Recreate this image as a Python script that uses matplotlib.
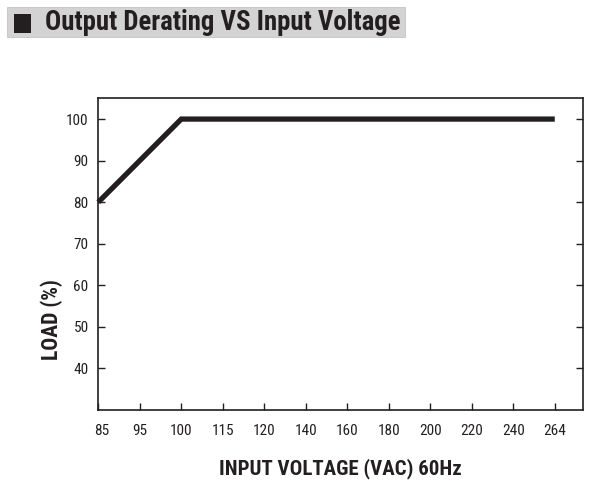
import matplotlib
matplotlib.use("Agg")
import matplotlib.pyplot as plt
from matplotlib.patches import Rectangle
from matplotlib.transforms import ScaledTranslation

plt.rcParams['font.family'] = ['Roboto Condensed', 'Liberation Sans', 'DejaVu Sans']

x_labels = ["85", "95", "100", "115", "120", "140", "160", "180", "200", "220", "240", "264"]
load_voltage_idx = [0, 2, 11]   # positions of 85, 100, 264 VAC on the category axis
load_values = [80, 100, 100]
y_ticks = [40, 50, 60, 70, 80, 90, 100]

ink = '#231f20'
fig = plt.figure(figsize=(6.10, 4.99), dpi=100)
ax = fig.add_axes([0.1611, 0.1784, 0.7946, 0.6246])

ax.plot(load_voltage_idx, load_values, color=ink, lw=3.8, solid_capstyle='butt',
        solid_joinstyle='miter', clip_on=False)

ax.set_xlim(0, 11.68)
ax.set_ylim(30, 105)
ax.set_xticks(range(len(x_labels)))
ax.set_xticklabels(x_labels)
ax.set_yticks(y_ticks)
ax.tick_params(axis='both', direction='in', length=5, width=1, colors=ink,
               labelsize=11, labelcolor=ink)
ax.tick_params(axis='y', right=True, pad=7)
ax.tick_params(axis='x', pad=10)
for s in ax.spines.values():
    s.set_color(ink)
    s.set_linewidth(1.2)

# first x label sits a little right of the spine
lbl0 = ax.get_xticklabels()[0]
lbl0.set_transform(lbl0.get_transform() + ScaledTranslation(3/100, 0, fig.dpi_scale_trans))

ax.set_xlabel("INPUT VOLTAGE (VAC) 60Hz", fontsize=15, fontweight='bold', color=ink, labelpad=15)
ax.set_ylabel("LOAD (%)", fontsize=15.5, fontweight='bold', color=ink)
ax.yaxis.label.set_va('center')
ax.yaxis.set_label_coords(-0.0955, 0.289)

# title banner
fig.patches.append(Rectangle((7/610, 1-37/499), 398/610, 30/499, transform=fig.transFigure,
                             facecolor='#d3d3d3', edgecolor='#c4c4c4', lw=0.6, zorder=0))
fig.patches.append(Rectangle((14/610, 1-33/499), 17/610, 19/499, transform=fig.transFigure,
                             facecolor=ink, edgecolor='none', zorder=1))
fig.text(45/610, 1-23/499, "Output Derating VS Input Voltage", fontsize=19.3, fontweight='bold',
         color=ink, va='center', ha='left')

fig.savefig("out.png", dpi=100)
